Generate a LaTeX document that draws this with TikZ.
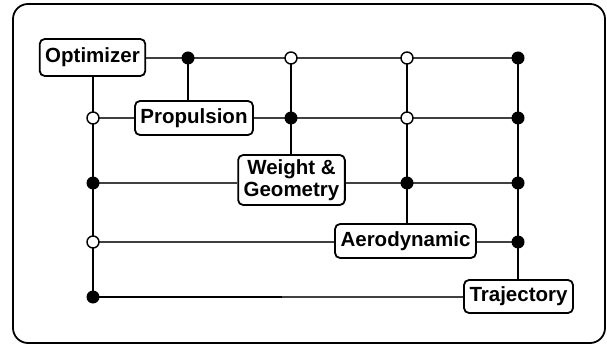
\documentclass[tikz,border=0pt]{standalone}
\usepackage{fontspec}
\setmainfont{Liberation Sans}
\begin{document}
\begin{tikzpicture}[x=1pt,y=-1pt,
  box/.style={draw, line width=1.8pt, rounded corners=5pt, fill=white,
    font=\bfseries\fontsize{20.5}{21.5}\selectfont, inner xsep=5.5pt, inner ysep=0pt,
    minimum height=34pt, align=center},
  hl/.style={line width=1.6pt, draw=black!75},
  vl/.style={line width=2pt, draw=black},
  bdot/.style={circle, fill=black, inner sep=0pt, minimum size=13pt},
  odot/.style={circle, draw=black, line width=1.4pt, fill=white, inner sep=0pt, minimum size=12pt}]
\useasboundingbox (0,0) rectangle (607,347);
\draw[line width=1.8pt, rounded corners=15pt] (13,4) rectangle (605,343);
% boxes
\node[box, minimum height=37pt] (opt) at (92.5,57.5) {Optimizer};
\node[box] (prop) at (194,118) {Propulsion};
\node[box, minimum height=50pt] (wg) at (291.5,180) {Weight \&\\Geometry};
\node[box] (aero) at (405.5,241) {Aerodynamic};
\node[box, minimum height=33pt] (traj) at (518.5,296.5) {Trajectory};
% junctions
\coordinate (b12) at (188,58);
\coordinate (o13) at (291,58);
\coordinate (o14) at (407,58);
\coordinate (b15) at (518,58);
\coordinate (o21) at (93,118);
\coordinate (b23) at (291,118);
\coordinate (o24) at (407,118);
\coordinate (b25) at (518,118);
\coordinate (b31) at (93,183);
\coordinate (b34) at (407,183);
\coordinate (b35) at (518,183);
\coordinate (o41) at (93,242);
\coordinate (b45) at (518,242);
\coordinate (b51) at (93,297);
\coordinate (m5) at (282,297);
% horizontal lines
\draw[hl] (opt.east |- b15) -- (b15);
\draw[hl] (o21) -- (prop.west |- o21);
\draw[hl] (prop.east |- b25) -- (b25);
\draw[hl] (b31) -- (wg.west |- b31);
\draw[hl] (wg.east |- b35) -- (b35);
\draw[hl] (o41) -- (aero.west |- o41);
\draw[hl] (aero.east |- b45) -- (b45);
\draw[vl] (b51) -- (m5);
\draw[hl] (m5) -- (traj.west |- m5);
% vertical lines
\draw[vl] (opt.south -| b51) -- (b51);
\draw[vl] (b12) -- (b12 |- prop.north);
\draw[vl] (o13) -- (o13 |- wg.north);
\draw[vl] (o14) -- (o14 |- aero.north);
\draw[vl] (b15) -- (b15 |- traj.north);
% dots
\foreach \p in {b12,b15,b23,b25,b31,b34,b35,b45,b51}
  \node[bdot] at (\p) {};
\foreach \p in {o13,o14,o21,o24,o41}
  \node[odot] at (\p) {};
\end{tikzpicture}
\end{document}
